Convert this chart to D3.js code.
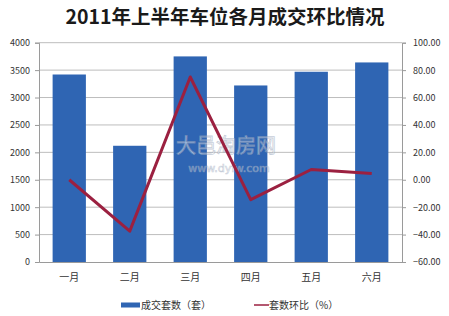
<!DOCTYPE html>
<html><head><meta charset="utf-8">
<script src="https://cdn.jsdelivr.net/npm/d3@7"></script>
<style>body{margin:0;background:#fff}svg{display:block}</style>
</head><body>
<script>
const categories = ["一月","二月","三月","四月","五月","六月"];
const volume = [3420, 2120, 3750, 3220, 3470, 3640];
const mom = [0.0, -37.5, 75.0, -14.5, 7.5, 4.5];
const leftTicks = [0,500,1000,1500,2000,2500,3000,3500,4000];
const rightTicks = [-60,-40,-20,0,20,40,60,80,100];
const title = "2011年上半年车位各月成交环比情况";
const legendLabels = ["成交套数（套）","套数环比（%）"];

const W=449,H=316;
const m={l:39,r:402,t:42.7,b:262};
const font="'Noto Sans CJK SC','DejaVu Sans',sans-serif";
const svg=d3.select("body").append("svg").attr("width",W).attr("height",H);

const x=d3.scaleBand().domain(categories).range([m.l,m.r]).paddingInner(0.45).paddingOuter(0.225);
const xc=d3.scalePoint().domain(categories).range([m.l,m.r]).padding(0.5);
const y=d3.scaleLinear().domain([0,4000]).range([m.b,m.t]);
const y2=d3.scaleLinear().domain([-60,100]).range([m.b,m.t]);

svg.append("text").attr("x",225).attr("y",24).attr("text-anchor","middle")
  .attr("font-family",font).attr("font-weight","bold").attr("font-size",19.5).attr("fill","#1a1a1a").text(title);

// gridlines
svg.append("g").selectAll("line").data(leftTicks.filter(d=>d>0)).join("line")
  .attr("x1",m.l).attr("x2",m.r).attr("y1",d=>y(d)).attr("y2",d=>y(d))
  .attr("stroke","#bdbdbd").attr("stroke-width",1);

// bars
svg.append("g").selectAll("rect").data(volume).join("rect")
  .attr("x",(d,i)=>x(categories[i])).attr("width",x.bandwidth())
  .attr("y",d=>y(d)).attr("height",d=>m.b-y(d)).attr("fill","#2f65b3");

// left axis
const gl=svg.append("g").attr("transform",`translate(${m.l},0)`)
  .call(d3.axisLeft(y).tickValues(leftTicks).tickSize(4).tickPadding(5).tickFormat(d3.format("d")));
// right axis
const gr=svg.append("g").attr("transform",`translate(${m.r},0)`)
  .call(d3.axisRight(y2).tickValues(rightTicks).tickSize(4).tickPadding(7).tickFormat(d3.format(".2f")));
// bottom axis
const gb=svg.append("g").attr("transform",`translate(0,${m.b})`)
  .call(d3.axisBottom(x).tickSize(0).tickPadding(12));
[gl,gr,gb].forEach(g=>{
  g.selectAll("path,line").attr("stroke","#9a9a9a");
  g.selectAll("text").attr("font-family",font).attr("font-size",9).attr("fill","#333");
});
gb.selectAll("text").attr("font-size",10);

// watermark
const wm=svg.append("g").attr("opacity",0.55);
wm.append("text").attr("x",226).attr("y",153).attr("text-anchor","middle").attr("font-family",font)
  .attr("font-size",20).attr("fill","#fff").attr("stroke","#9aa7bb").attr("stroke-width",0.8).text("大邑淘房网");
wm.append("text").attr("x",229).attr("y",172).attr("text-anchor","middle").attr("font-family","'DejaVu Sans',sans-serif")
  .attr("font-size",11).attr("fill","#fff").attr("stroke","#9aa7bb").attr("stroke-width",0.6).text("www.dyfw.com");

// line
const line=d3.line().x((d,i)=>xc(categories[i])).y(d=>y2(d));
svg.append("path").datum(mom).attr("d",line).attr("fill","none")
  .attr("stroke","#9b2040").attr("stroke-width",3).attr("stroke-linejoin","round");

// legend
svg.append("rect").attr("x",121).attr("y",302.5).attr("width",19).attr("height",5).attr("fill","#2f65b3");
svg.append("text").attr("x",141).attr("y",309).attr("font-family",font).attr("font-size",10).attr("fill","#333").text(legendLabels[0]);
svg.append("line").attr("x1",254).attr("x2",269).attr("y1",305).attr("y2",305).attr("stroke","#9b2040").attr("stroke-width",1.5);
svg.append("text").attr("x",269).attr("y",309).attr("font-family",font).attr("font-size",10).attr("fill","#333").text(legendLabels[1]);
</script>
</body></html>
